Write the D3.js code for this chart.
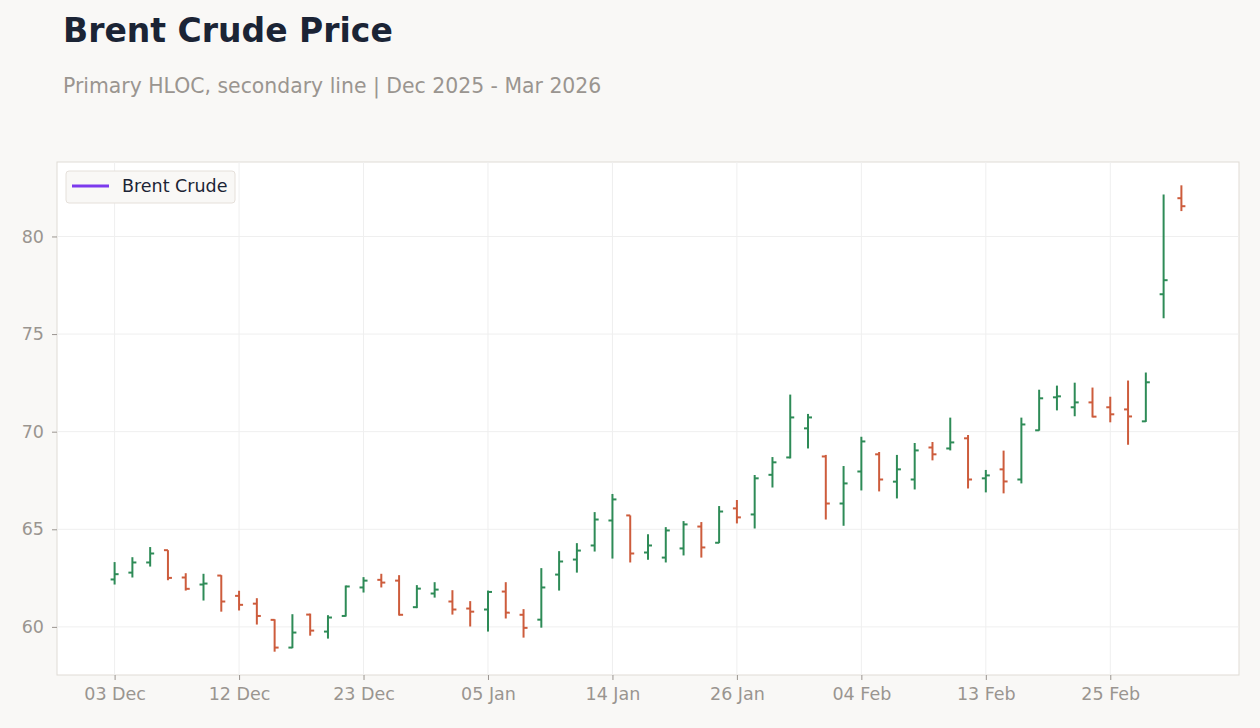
<!DOCTYPE html>
<html>
<head>
<meta charset="utf-8">
<script src="https://cdn.jsdelivr.net/npm/d3@7"></script>
<style>
  body { margin: 0; background: #f9f8f6; font-family: "DejaVu Sans", sans-serif; }
  .axis text { fill: #9a9590; font-size: 17.5px; font-family: "DejaVu Sans", sans-serif; }
  .axis path { display: none; }
  .axis line { stroke: #9a9590; }
</style>
</head>
<body>
<svg width="1260" height="728"></svg>
<script>
var dates = ["2025-12-03","2025-12-04","2025-12-05","2025-12-08","2025-12-09","2025-12-10","2025-12-11","2025-12-12",
  "2025-12-15","2025-12-16","2025-12-17","2025-12-18","2025-12-19","2025-12-22","2025-12-23","2025-12-24","2025-12-26",
  "2025-12-29","2025-12-30","2025-12-31","2026-01-02","2026-01-05","2026-01-06","2026-01-07","2026-01-08","2026-01-09",
  "2026-01-12","2026-01-13","2026-01-14","2026-01-15","2026-01-16","2026-01-20","2026-01-21","2026-01-22","2026-01-23",
  "2026-01-26","2026-01-27","2026-01-28","2026-01-29","2026-01-30","2026-02-02","2026-02-03","2026-02-04","2026-02-05",
  "2026-02-06","2026-02-09","2026-02-10","2026-02-11","2026-02-12","2026-02-13","2026-02-17","2026-02-18","2026-02-19",
  "2026-02-20","2026-02-23","2026-02-24","2026-02-25","2026-02-26","2026-02-27","2026-03-02","2026-03-03"];

var open = [62.43,62.78,63.30,63.93,62.53,62.17,62.63,61.59,61.19,60.36,58.94,60.63,59.76,60.56,62.02,62.41,62.37,
  61.01,61.71,61.30,60.94,60.89,61.81,60.62,60.37,62.68,63.45,64.17,65.45,65.71,63.81,63.55,64.02,65.14,64.31,
  66.07,65.76,67.79,68.68,70.17,68.73,66.32,67.96,68.84,67.44,67.55,69.19,69.14,69.66,67.61,68.07,67.55,70.07,
  71.76,71.25,71.50,71.25,71.14,70.53,77.04,81.96];
var high = [63.32,63.57,64.09,63.93,62.75,62.72,62.65,61.85,61.47,60.39,60.65,60.68,60.60,62.12,62.55,62.72,62.65,
  62.14,62.29,61.88,61.32,61.86,62.29,60.91,63.01,63.88,64.29,65.88,66.81,65.71,64.75,65.11,65.42,65.37,66.19,
  66.50,67.78,68.70,71.90,70.91,68.81,68.24,69.74,68.96,68.81,69.42,69.47,70.72,69.83,68.04,69.03,70.72,72.15,
  72.36,72.51,72.26,71.79,72.62,73.03,82.15,82.62];
var low = [62.17,62.53,63.09,62.39,61.86,61.35,60.78,60.84,60.12,58.73,58.91,59.55,59.40,60.53,61.76,62.02,60.58,
  60.96,61.50,60.63,60.02,59.76,60.43,59.45,59.96,61.86,62.78,63.86,63.50,63.30,63.44,63.30,63.66,63.55,64.29,
  65.30,65.04,67.14,68.63,69.14,65.50,65.18,66.99,66.94,66.58,67.04,68.53,69.04,67.09,66.89,66.84,67.35,70.05,
  71.09,70.79,70.73,70.48,69.33,70.50,75.81,81.30];
var close = [62.70,63.30,63.76,62.51,61.95,62.22,61.30,61.13,60.56,58.94,59.71,59.81,60.48,62.07,62.37,62.27,60.62,
  61.96,61.91,60.89,60.78,61.79,60.73,59.95,62.02,63.35,63.91,65.50,66.53,63.76,64.17,64.94,65.25,64.07,65.91,
  65.61,67.61,68.43,70.73,70.73,66.32,67.35,69.50,67.55,68.07,69.04,68.84,69.45,67.55,67.76,67.45,70.37,71.71,
  71.81,71.50,70.77,70.89,70.78,72.53,77.76,81.55];

var yTicks = [60, 65, 70, 75, 80];
var seriesName = "Brent Crude";

var parseDate = d3.timeParse("%Y-%m-%d");
var fmt = d3.timeFormat("%d %b");

var data = dates.map(function(d, i) {
  return {date: parseDate(d), key: d, open: open[i], high: high[i], low: low[i], close: close[i]};
});

var svg = d3.select("svg");
var margin = {top: 162, right: 21, bottom: 53, left: 57};
var width = +svg.attr("width") - margin.left - margin.right;
var height = +svg.attr("height") - margin.top - margin.bottom;

svg.append("text").attr("x", 63).attr("y", 42)
  .style("font-size", "33px").style("font-weight", "bold").style("fill", "#1b2435")
  .text("Brent Crude Price");
svg.append("text").attr("x", 63).attr("y", 93)
  .style("font-size", "20.4px").style("fill", "#9a9590")
  .text("Primary HLOC, secondary line | Dec 2025 - Mar 2026");

var g = svg.append("g").attr("transform", "translate(" + margin.left + "," + margin.top + ")");

g.append("rect").attr("width", width).attr("height", height)
  .attr("fill", "#ffffff").attr("stroke", "#e0dbd5");

var x = d3.scalePoint().domain(dates).range([0, width]).padding(3.24);
var lo = d3.min(low), hi = d3.max(high), pad = (hi - lo) * 0.05;
var y = d3.scaleLinear().domain([lo - pad, hi + pad]).range([height, 0]);

var tickKeys = dates.filter(function(d, i) { return i % 7 === 0; });

// grid
g.append("g").selectAll("line").data(yTicks).enter().append("line")
  .attr("x1", 0).attr("x2", width)
  .attr("y1", function(d) { return y(d); }).attr("y2", function(d) { return y(d); })
  .attr("stroke", "#efefef");
g.append("g").selectAll("line").data(tickKeys).enter().append("line")
  .attr("x1", function(d) { return x(d); }).attr("x2", function(d) { return x(d); })
  .attr("y1", 0).attr("y2", height)
  .attr("stroke", "#efefef");

g.append("g")
  .attr("class", "axis")
  .attr("transform", "translate(0," + height + ")")
  .call(d3.axisBottom(x).tickValues(tickKeys).tickSize(5).tickPadding(8)
    .tickFormat(function(d) { return fmt(parseDate(d)); }));

g.append("g")
  .attr("class", "axis")
  .call(d3.axisLeft(y).tickValues(yTicks).tickSize(5).tickPadding(8));

// HLOC bars
var bars = g.append("g").selectAll("g").data(data).enter().append("g")
  .attr("stroke", function(d) { return d.close >= d.open ? "#2e8b57" : "#cd5c3c"; })
  .attr("stroke-width", 2);
bars.append("line")
  .attr("x1", function(d) { return x(d.key); }).attr("x2", function(d) { return x(d.key); })
  .attr("y1", function(d) { return y(d.high); }).attr("y2", function(d) { return y(d.low); });
bars.append("line")
  .attr("x1", function(d) { return x(d.key) - 4; }).attr("x2", function(d) { return x(d.key); })
  .attr("y1", function(d) { return y(d.open); }).attr("y2", function(d) { return y(d.open); });
bars.append("line")
  .attr("x1", function(d) { return x(d.key); }).attr("x2", function(d) { return x(d.key) + 4; })
  .attr("y1", function(d) { return y(d.close); }).attr("y2", function(d) { return y(d.close); });

// legend
var lg = g.append("g").attr("transform", "translate(9,9)");
lg.append("rect").attr("width", 169).attr("height", 32).attr("rx", 3)
  .attr("fill", "#f9f8f6").attr("stroke", "#e5e0da");
lg.append("line").attr("x1", 6).attr("x2", 43).attr("y1", 15).attr("y2", 15)
  .attr("stroke", "#7c3aed").attr("stroke-width", 3);
lg.append("text").attr("x", 56).attr("y", 21)
  .style("font-size", "17.5px").style("fill", "#1b2435")
  .text(seriesName);
</script>
</body>
</html>
